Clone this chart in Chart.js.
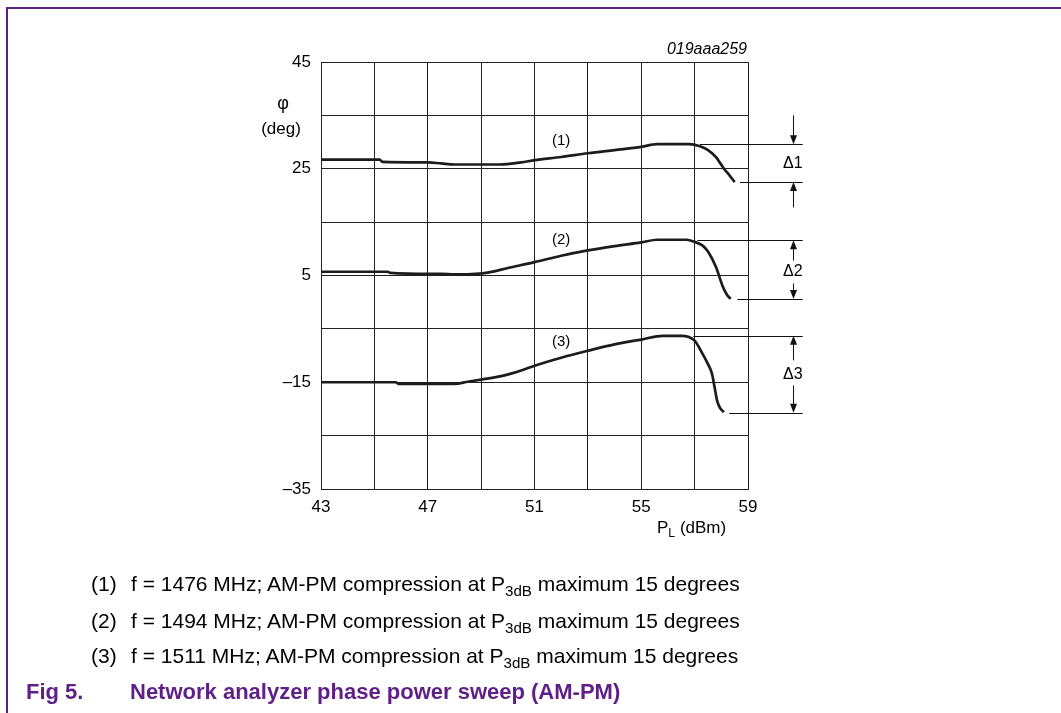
<!DOCTYPE html>
<html>
<head>
<meta charset="utf-8">
<script src="https://cdn.jsdelivr.net/npm/chart.js@4.4.1/dist/chart.umd.min.js"></script>
<style>
html,body{margin:0;padding:0;background:#fff;}
body{width:1061px;height:713px;position:relative;overflow:hidden;font-family:'Liberation Sans',Arial,Helvetica,sans-serif;color:#000;}
#c{position:absolute;left:0;top:0;}
.t{position:absolute;white-space:nowrap;line-height:1;}
.frame{position:absolute;left:6px;top:7px;width:1100px;height:800px;border-top:2px solid #5e1f88;border-left:2px solid #5e1f88;}
.note{font-size:21px;}
.note .n{position:absolute;left:0;}
.note .s{position:absolute;left:40px;}
sub{font-size:0.72em;vertical-align:-0.3em;line-height:0;}
.cap{font-size:22px;font-weight:bold;color:#5e1f88;}
</style>
</head>
<body>
<div class="frame"></div>
<canvas id="c" width="1061" height="713"></canvas>

<div class="t" style="left:600px;width:147px;text-align:right;top:41px;font-size:16px;font-style:italic;">019aaa259</div>
<div class="t" style="left:251px;width:64px;text-align:center;top:94px;font-size:18px;">φ</div>
<div class="t" style="left:249px;width:64px;text-align:center;top:120px;font-size:17px;">(deg)</div>
<div class="t" style="left:657px;top:519px;font-size:17px;">P<sub>L</sub> (dBm)</div>

<div class="t note" style="left:91px;top:573px;"><span class="n">(1)</span><span class="s">f = 1476 MHz; AM-PM compression at P<sub>3dB</sub> maximum 15 degrees</span></div>
<div class="t note" style="left:91px;top:610px;"><span class="n">(2)</span><span class="s">f = 1494 MHz; AM-PM compression at P<sub>3dB</sub> maximum 15 degrees</span></div>
<div class="t note" style="left:91px;top:645px;"><span class="n">(3)</span><span class="s">f = 1511 MHz; AM-PM compression at P<sub>3dB</sub> maximum 15 degrees</span></div>
<div class="t cap" style="left:26px;top:681px;">Fig 5.</div>
<div class="t cap" style="left:130px;top:681px;">Network analyzer phase power sweep (AM-PM)</div>

<script>
// ---- axis definitions ----
const xMin = 43, xMax = 59, xStep = 2;
const yMin = -35, yMax = 45, yStep = 10;
const xLabelValues = [43, 47, 51, 55, 59];
const yLabelValues = [45, 25, 5, -15, -35];

// ---- curve (1): f = 1476 MHz ----
const curve1X = [43.0, 45.2, 45.3, 47.0, 47.5, 48.0, 49.7, 50.5, 51.0, 52.0, 53.0, 54.0, 55.0, 55.6, 56.8, 57.2, 57.5, 57.8, 58.1, 58.3, 58.5];
const curve1Y = [26.7, 26.7, 26.3, 26.2, 26.0, 25.8, 25.8, 26.2, 26.6, 27.2, 27.9, 28.5, 29.1, 29.6, 29.6, 29.2, 28.5, 27.2, 25.0, 23.8, 22.5];

// ---- curve (2): f = 1494 MHz ----
const curve2X = [43.0, 45.5, 45.6, 47.5, 48.0, 48.8, 49.3, 50.0, 51.0, 52.0, 53.0, 54.0, 55.0, 55.6, 56.7, 57.0, 57.3, 57.5, 57.8, 58.05, 58.2, 58.35];
const curve2Y = [5.7, 5.7, 5.5, 5.3, 5.2, 5.3, 5.6, 6.4, 7.5, 8.7, 9.7, 10.5, 11.2, 11.7, 11.7, 11.3, 10.6, 9.5, 6.6, 3.0, 1.5, 0.6];

// ---- curve (3): f = 1511 MHz ----
const curve3X = [43.0, 45.8, 45.9, 48.0, 48.5, 49.0, 49.8, 50.5, 51.0, 52.0, 53.0, 54.0, 55.0, 55.8, 56.5, 57.0, 57.3, 57.5, 57.65, 57.75, 57.85, 57.95, 58.1];
const curve3Y = [-15.0, -15.0, -15.3, -15.3, -14.9, -14.5, -13.8, -12.8, -11.9, -10.4, -9.1, -7.9, -7.0, -6.3, -6.3, -7.2, -9.7, -11.6, -13.4, -16.0, -18.6, -19.8, -20.6];

// ---- curve labels ----
const curveLabels = ['(1)', '(2)', '(3)'];
const curveLabelX = [52.0, 52.0, 52.0];
const curveLabelY = [30.3, 11.7, -7.5];

// ---- delta (AM-PM compression) markers ----
const deltaLabels = ['\u03941', '\u03942', '\u03943'];
const deltaTop = [29.6, 11.6, -6.3];
const deltaBottom = [22.5, 0.6, -20.7];
const deltaTopStartX = [57.2, 57.1, 56.95];
const deltaBottomStartX = [58.7, 58.6, 58.3];
const deltaEndX = 61.05;
const deltaArrowX = 60.7;
const arrowTailTop = [35.0, 7.8, -10.9];
const arrowTailBottom = [17.75, 3.5, -15.6];
const deltaLabelY = [26.0, 5.75, -13.6];

const FONT = "'Liberation Sans', Arial, sans-serif";

function toPoints(xs, ys) { return xs.map((x, i) => ({ x: x, y: ys[i] })); }
function fmtY(v) { return v < 0 ? '\u2013' + Math.abs(v) : String(v); }

const annotationPlugin = {
  id: 'annotations',
  afterDatasetsDraw(chart) {
    const ctx = chart.ctx;
    const xs = chart.scales.x, ys = chart.scales.y;
    const X = v => xs.getPixelForValue(v);
    const Y = v => ys.getPixelForValue(v);
    ctx.save();
    ctx.strokeStyle = '#111';
    ctx.fillStyle = '#111';
    ctx.lineWidth = 1;
    function hline(x1, x2, yv) {
      const y = Math.round(Y(yv)) + 0.5;
      ctx.beginPath(); ctx.moveTo(X(x1), y); ctx.lineTo(X(x2), y); ctx.stroke();
    }
    function arrow(xv, fromV, toV) {
      const x = Math.round(X(xv)) + 0.5;
      const y1 = Y(fromV), y2 = Y(toV);
      const dir = y2 > y1 ? 1 : -1;
      ctx.beginPath(); ctx.moveTo(x, y1); ctx.lineTo(x, y2 - dir * 6); ctx.stroke();
      ctx.beginPath();
      ctx.moveTo(x, y2);
      ctx.lineTo(x - 3.5, y2 - dir * 9);
      ctx.lineTo(x + 3.5, y2 - dir * 9);
      ctx.closePath(); ctx.fill();
    }
    for (let i = 0; i < deltaTop.length; i++) {
      hline(deltaTopStartX[i], deltaEndX, deltaTop[i]);
      hline(deltaBottomStartX[i], deltaEndX, deltaBottom[i]);
      arrow(deltaArrowX, arrowTailTop[i], deltaTop[i]);
      arrow(deltaArrowX, arrowTailBottom[i], deltaBottom[i]);
    }
    ctx.fillStyle = '#000';
    ctx.font = '16px ' + FONT;
    ctx.textAlign = 'right';
    ctx.textBaseline = 'middle';
    for (let i = 0; i < deltaLabels.length; i++) {
      ctx.fillText(deltaLabels[i], X(deltaEndX), Y(deltaLabelY[i]));
    }
    ctx.font = '15px ' + FONT;
    ctx.textAlign = 'center';
    for (let i = 0; i < curveLabels.length; i++) {
      ctx.fillText(curveLabels[i], X(curveLabelX[i]), Y(curveLabelY[i]));
    }
    ctx.restore();
  }
};

const lineStyle = { borderColor: '#1c1c1c', borderWidth: 2.7, pointRadius: 0, cubicInterpolationMode: 'monotone', fill: false };

new Chart(document.getElementById('c'), {
  type: 'line',
  data: {
    datasets: [
      Object.assign({ label: '(1)', data: toPoints(curve1X, curve1Y) }, lineStyle),
      Object.assign({ label: '(2)', data: toPoints(curve2X, curve2Y) }, lineStyle),
      Object.assign({ label: '(3)', data: toPoints(curve3X, curve3Y) }, lineStyle)
    ]
  },
  options: {
    responsive: false,
    animation: false,
    layout: { padding: { left: 261, right: 313, top: 62, bottom: 184 } },
    plugins: { legend: { display: false }, tooltip: { enabled: false } },
    scales: {
      x: {
        type: 'linear', min: xMin, max: xMax,
        ticks: {
          stepSize: xStep, autoSkip: false, maxRotation: 0, padding: 8, color: '#000',
          font: { family: FONT, size: 17 },
          callback: v => xLabelValues.includes(v) ? String(v) : ''
        },
        grid: { color: '#222', lineWidth: 1, drawTicks: false },
        border: { color: '#222', width: 1 },
        afterFit: s => { s.height = 40; }
      },
      y: {
        type: 'linear', min: yMin, max: yMax,
        ticks: {
          stepSize: yStep, autoSkip: false, padding: 10, color: '#000',
          font: { family: FONT, size: 17 },
          callback: v => yLabelValues.includes(v) ? fmtY(v) : ''
        },
        grid: { color: '#222', lineWidth: 1, drawTicks: false },
        border: { color: '#222', width: 1 },
        afterFit: s => { s.width = 60; }
      }
    }
  },
  plugins: [annotationPlugin]
});
</script>
</body>
</html>
